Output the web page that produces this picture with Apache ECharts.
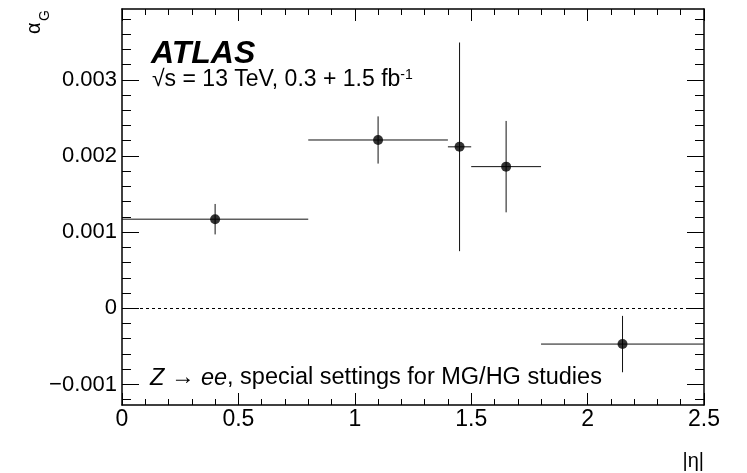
<!DOCTYPE html>
<html>
<head>
<meta charset="utf-8">
<script src="https://cdn.jsdelivr.net/npm/echarts@6/dist/echarts.min.js"></script>
<style>
html,body{margin:0;padding:0;background:#fff;}
#chart{width:747px;height:473px;}
</style>
</head>
<body>
<div id="chart"></div>
<script>
// ---- data ----
const etaCenter = [0.4, 1.1, 1.45, 1.65, 2.15];
const etaLow    = [0.0, 0.8, 1.4, 1.5, 1.8];
const etaHigh   = [0.8, 1.4, 1.5, 1.8, 2.5];
const alphaG    = [0.00117, 0.00221, 0.00212, 0.00186, -0.00047];
const alphaErr  = [0.00020, 0.00031, 0.00137, 0.00060, 0.00037];

const yTickValues = [-0.001, 0, 0.001, 0.002, 0.003];
const yTickLabels = ['\u22120.001', '0', '0.001', '0.002', '0.003'];
const xTickLabels = ['0', '0.5', '1', '1.5', '2', '2.5'];

const yMin = -0.00127, yMax = 0.00393;
const yMinorStep = 0.0002;
const yMinor = [];
for (let k = -6; k <= 19; k++) {
  const v = +(k * yMinorStep).toFixed(6);
  if (k % 5 !== 0) yMinor.push(v);
}

const FONT = '"Liberation Sans", Arial, Helvetica, sans-serif';
const black = '#000';
const frameLine = { show: true, onZero: false, lineStyle: { color: black, width: 1.5 } };

function yAxisDef(pos, values, len, withLabels, withLine) {
  return {
    type: 'value', min: yMin, max: yMax, position: pos,
    axisLine: withLine ? frameLine : { show: false, onZero: false },
    axisTick: { show: true, inside: true, length: len, customValues: values, lineStyle: { color: black, width: 1 } },
    axisLabel: withLabels ? {
      show: true, customValues: yTickValues, margin: 5, fontSize: 22, fontFamily: FONT, color: black,
      formatter: v => { const i = yTickValues.findIndex(t => Math.abs(t - v) < 1e-9); return i >= 0 ? yTickLabels[i] : ''; }
    } : { show: false },
    splitLine: { show: false }
  };
}
function xAxisDef(pos, withLabels) {
  return {
    type: 'value', min: 0, max: 2.5, interval: 0.5, position: pos,
    axisLine: frameLine,
    axisTick: { show: true, inside: true, length: 12, lineStyle: { color: black, width: 1 } },
    minorTick: { show: true, splitNumber: 5, length: 6, lineStyle: { color: black, width: 1 } },
    axisLabel: withLabels ? {
      show: true, margin: 3, fontSize: 23, fontFamily: FONT, color: black,
      formatter: v => xTickLabels[Math.round(v / 0.5)]
    } : { show: false },
    splitLine: { show: false }, minorSplitLine: { show: false }
  };
}

const errData = etaCenter.map((x, i) => [x, alphaG[i], etaLow[i], etaHigh[i], alphaErr[i]]);
const ptData = etaCenter.map((x, i) => [x, alphaG[i]]);

const chart = echarts.init(document.getElementById('chart'), null, { renderer: 'canvas' });
chart.setOption({
  animation: false,
  backgroundColor: '#fff',
  grid: { left: 122, right: 43, top: 9, bottom: 68, containLabel: false },
  xAxis: [xAxisDef('bottom', true), xAxisDef('top', false)],
  yAxis: [
    yAxisDef('left', yTickValues, 17, true, true),
    yAxisDef('left', yMinor, 9, false, false),
    yAxisDef('right', yTickValues, 17, false, true),
    yAxisDef('right', yMinor, 9, false, false)
  ],
  series: [
    {
      type: 'custom', xAxisIndex: 0, yAxisIndex: 0, silent: true,
      data: errData,
      encode: { x: 0, y: 1 },
      renderItem: function (params, api) {
        const x = api.value(0), y = api.value(1), xl = api.value(2), xh = api.value(3), e = api.value(4);
        const pL = api.coord([xl, y]), pR = api.coord([xh, y]);
        const pT = api.coord([x, y + e]), pB = api.coord([x, y - e]);
        const st = { stroke: '#111', lineWidth: 1 };
        return { type: 'group', children: [
          { type: 'line', shape: { x1: pL[0], y1: pL[1], x2: pR[0], y2: pR[1] }, style: st },
          { type: 'line', shape: { x1: pT[0], y1: pT[1], x2: pB[0], y2: pB[1] }, style: st }
        ]};
      },
      z: 2
    },
    {
      type: 'scatter', xAxisIndex: 0, yAxisIndex: 0, silent: true,
      data: ptData, symbol: 'circle', symbolSize: 10,
      itemStyle: { color: black },
      z: 3,
      markLine: {
        silent: true, symbol: 'none', animation: false,
        label: { show: false },
        lineStyle: { color: black, width: 1, type: [3, 3] },
        emphasis: { disabled: true },
        data: [{ yAxis: 0 }]
      }
    }
  ],
  graphic: [
    { type: 'text', x: 151, y: 54, style: { text: 'ATLAS', font: 'italic bold 32px ' + FONT, fill: black, textAlign: 'left', textVerticalAlign: 'middle' } },
    { type: 'text', x: 152, y: 80, style: {
        text: '{a|\u221As = 13 TeV, 0.3 + 1.5 fb}{s|-1}',
        rich: { a: { fontSize: 23, fontFamily: FONT, fill: black, verticalAlign: 'bottom' },
                s: { fontSize: 14, fontFamily: FONT, fill: black, verticalAlign: 'top' } },
        textAlign: 'left', textVerticalAlign: 'middle' } },
    { type: 'text', x: 150, y: 378, style: {
        text: '{i|Z}{n| \u2192 }{i|ee}{n|, special settings for MG/HG studies}',
        rich: { i: { fontSize: 23.5, fontFamily: FONT, fontStyle: 'italic', fill: black },
                n: { fontSize: 23.5, fontFamily: FONT, fill: black } },
        textAlign: 'left', textVerticalAlign: 'middle' } },
    { type: 'text', x: 704, y: 461, style: { text: '|\u03B7|', font: '20px ' + FONT, fill: black, textAlign: 'right', textVerticalAlign: 'middle' } },
    { type: 'text', x: 34, y: 34, rotation: Math.PI / 2, style: { text: '\u03B1', font: '20px ' + FONT, fill: black, textAlign: 'left', textVerticalAlign: 'middle' } },
    { type: 'text', x: 45, y: 21, rotation: Math.PI / 2, style: { text: 'G', font: '14px ' + FONT, fill: black, textAlign: 'left', textVerticalAlign: 'middle' } }
  ]
});
</script>
</body>
</html>
